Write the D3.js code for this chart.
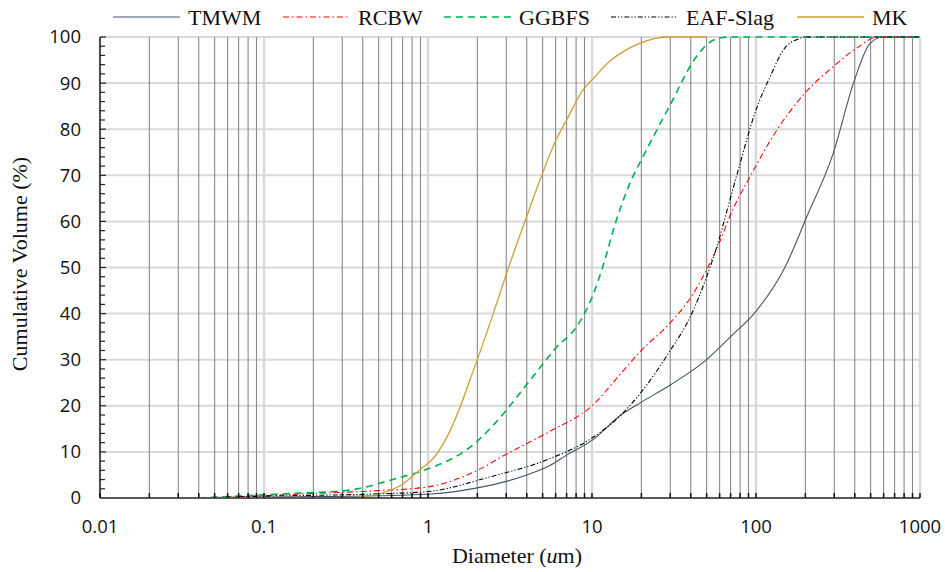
<!DOCTYPE html>
<html><head><meta charset="utf-8">
<script src="https://cdn.jsdelivr.net/npm/d3@7"></script>
<style>body{margin:0;background:#fff}svg{display:block}</style>
</head><body><svg id="c" width="945" height="572"></svg>
<script>
const seriesNames = ["TMWM","RCBW","GGBFS","EAF-Slag","MK"];
const xTickLabels = ["0.01","0.1","1","10","100","1000"];
const yTickLabels = [0,10,20,30,40,50,60,70,80,90,100];

const tmwmD = [0.05,0.1,0.5,1,2,3,4,5.5,7,10,15,20,30,50,70,100,150,204,296,393,496,594,1000];
const tmwmV = [0,0.2,0.5,0.8,2.2,3.6,5,7,9.3,12.5,18,20.8,24.5,30,35,40.5,50,61,74.8,90,98.6,100,100];

const rcbwD = [0.04,0.1,0.2,0.5,1,2,3,5.5,10,15,20,30,40,50,60,69,92,134,194,296,420,550,1000];
const rcbwV = [0,0.5,1,1.6,2.4,6,9.5,14.4,20,27,32,38,43.5,49.5,55.5,61,69.7,79.8,87.4,93.6,97.8,100,100];

const ggbfsD = [0.04,0.1,0.2,0.33,0.68,0.89,1.98,2.95,4.2,5,6,8,9,10,11.6,14,17.9,19.5,25,29.7,35,39.6,45,50,63,70,1000];
const ggbfsV = [0,0.7,1.2,1.7,4.5,5.7,12.2,18.7,25.6,29,32.5,37,40,43.5,50,60,70,72.6,80,85,90,93.6,96.5,98.3,99.9,100,100];

const eafD = [0.04,0.1,0.5,1,2.4,5.5,10,15,20,30,40,50,60,65,79,100,122,147,185,200,1000];
const eafV = [0,0.4,0.9,1.4,4.6,8.5,13,18,23,32,39.5,48,56.5,61,71.9,84.2,91.4,97.2,99.7,100,100];

const mkD = [0.36,0.53,0.7,0.89,1.1,1.36,1.6,1.8,2,2.5,3.1,3.9,5,6,7,8.8,10,13.1,16.2,19.5,28.5,50];
const mkV = [0,1.1,3,6.1,9,14.5,20.5,25.6,30,40,50,60,70.5,77.5,82,88.5,90.7,95,97.2,98.6,100,100];

const seriesD = [tmwmD,rcbwD,ggbfsD,eafD,mkD];
const seriesV = [tmwmV,rcbwV,ggbfsV,eafV,mkV];
const colors = ["#44546A","#FF0000","#00B050","#000000","#CFA033"];
const dashes = [null,"6,3,1.5,3","7,5","5,2,1.2,2,1.2,2",null];
const widths = [1.1,1.1,1.6,1.1,1.3];

const svg = d3.select("#c");
const L=100,R=920,T=37,B=498;
const x = d3.scaleLog().domain([0.01,1000]).range([L,R]);
const y = d3.scaleLinear().domain([0,100]).range([B,T]);

const minors=[];
for(let e=-2;e<3;e++) for(let k=2;k<=9;k++) minors.push(k*Math.pow(10,e));
const decades=[0.01,0.1,1,10,100,1000];

const g=svg.append("g");
g.selectAll(".hg").data(yTickLabels).join("line")
 .attr("x1",L).attr("x2",R).attr("y1",d=>y(d)).attr("y2",d=>y(d))
 .attr("stroke","#d9d9d9").attr("stroke-width",2);
g.selectAll(".dg").data(decades).join("line")
 .attr("x1",d=>x(d)).attr("x2",d=>x(d)).attr("y1",T).attr("y2",B)
 .attr("stroke","#d9d9d9").attr("stroke-width",2.5);
g.selectAll(".mg").data(minors).join("line")
 .attr("x1",d=>x(d)).attr("x2",d=>x(d)).attr("y1",T).attr("y2",B)
 .attr("stroke","#8a8a8a").attr("stroke-width",1.1);

const line=d3.line().x(d=>x(d[0])).y(d=>y(d[1])).curve(d3.curveMonotoneX);
seriesNames.forEach((n,i)=>{
  const pts=seriesD[i].map((d,j)=>[d,seriesV[i][j]]);
  svg.append("path").attr("d",line(pts)).attr("fill","none")
   .attr("stroke",colors[i]).attr("stroke-width",widths[i])
   .attr("stroke-dasharray",dashes[i]);
});

const ya=svg.append("g");
ya.append("line").attr("x1",L).attr("x2",L).attr("y1",T).attr("y2",B).attr("stroke","#222").attr("stroke-width",1.5);
ya.selectAll(".yt").data(d3.range(0,101,2)).join("line")
 .attr("x1",L).attr("x2",d=>L+(d%10===0?6:5)).attr("y1",d=>y(d)).attr("y2",d=>y(d))
 .attr("stroke","#222").attr("stroke-width",1.2);
ya.selectAll(".yl").data(yTickLabels).join("text")
 .attr("x",81).attr("y",d=>y(d)).attr("dy","0.35em").attr("text-anchor","end")
 .attr("font-family","'Open Sans',sans-serif").attr("font-size",18.5).attr("fill","#111").text(d=>d);

const xa=svg.append("g");
xa.append("line").attr("x1",L).attr("x2",R).attr("y1",B).attr("y2",B).attr("stroke","#595959").attr("stroke-width",2);
xa.selectAll(".xt").data(minors.concat(decades)).join("line")
 .attr("x1",d=>x(d)).attr("x2",d=>x(d)).attr("y1",B).attr("y2",B-5)
 .attr("stroke","#111").attr("stroke-width",1.5);
xa.selectAll(".xl").data(decades).join("text")
 .attr("x",d=>x(d)).attr("y",533).attr("text-anchor","middle")
 .attr("font-family","'Open Sans',sans-serif").attr("font-size",18.5).attr("fill","#111")
 .text((d,i)=>xTickLabels[i]);

const serif="'Liberation Serif','Times New Roman',serif";
const xt=svg.append("text").attr("x",517).attr("y",563).attr("text-anchor","middle")
 .attr("font-family",serif).attr("font-size",22).attr("fill","#111");
xt.append("tspan").text("Diameter (");
xt.append("tspan").attr("font-style","italic").text("u");
xt.append("tspan").text("m)");
svg.append("text").attr("transform","translate(27,264) rotate(-90)").attr("text-anchor","middle")
 .attr("font-family",serif).attr("font-size",22).attr("fill","#111").text("Cumulative Volume (%)");

const legX=[113,283,444,611,797];
const leg=svg.append("g");
seriesNames.forEach((n,i)=>{
  leg.append("line").attr("x1",legX[i]).attr("x2",legX[i]+67).attr("y1",17).attr("y2",17)
   .attr("stroke",colors[i]).attr("stroke-width",widths[i]).attr("stroke-dasharray",dashes[i]);
  leg.append("text").attr("x",legX[i]+75).attr("y",25).attr("font-family",serif)
   .attr("font-size",22).attr("fill","#111").text(n);
});
</script></body></html>
